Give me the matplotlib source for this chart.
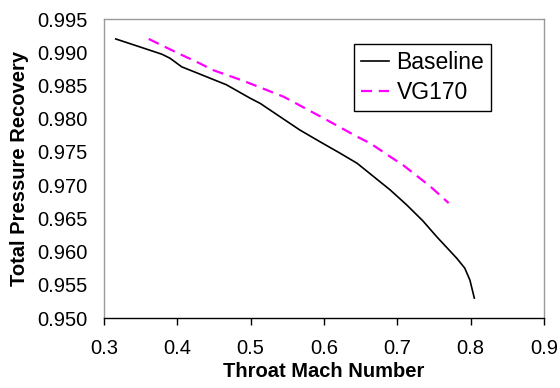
import matplotlib
matplotlib.use('Agg')
import matplotlib.pyplot as plt

plt.rcParams['font.family'] = ['Liberation Sans', 'DejaVu Sans']

# Baseline curve
base_mach = [0.316, 0.349, 0.379, 0.390, 0.406, 0.431, 0.467, 0.499, 0.513, 0.540,
             0.567, 0.595, 0.622, 0.645, 0.672, 0.690, 0.713, 0.735, 0.754, 0.781,
             0.792, 0.799, 0.805]
base_rec = [0.9920, 0.9908, 0.9897, 0.9891, 0.9878, 0.9867, 0.9851, 0.9831, 0.9823, 0.9803,
            0.9783, 0.9765, 0.9748, 0.9733, 0.9709, 0.9693, 0.9670, 0.9646, 0.9622, 0.9590,
            0.9575, 0.9557, 0.9530]

# VG170 curve
vg_mach = [0.361, 0.400, 0.431, 0.449, 0.490, 0.545, 0.599, 0.645, 0.663, 0.690, 0.708, 0.745, 0.770]
vg_rec = [0.9920, 0.9899, 0.9883, 0.9873, 0.9857, 0.9833, 0.9801, 0.9773, 0.9763, 0.9743, 0.9730, 0.9698, 0.9673]

fig = plt.figure(figsize=(5.6, 3.88), dpi=100)
ax = fig.add_axes([0.1857, 0.1804, 0.7857, 0.7706])

ax.plot(base_mach, base_rec, color='black', linewidth=1.2, label='Baseline')
ax.plot(vg_mach, vg_rec, color='#ff00ff', linewidth=1.6, dashes=(5, 3), label='VG170')

ax.set_xlim(0.3, 0.9)
ax.set_ylim(0.950, 0.995)
ax.set_xticks([0.3, 0.4, 0.5, 0.6, 0.7, 0.8, 0.9])
ax.set_xticklabels(['0.3', '0.4', '0.5', '0.6', '0.7', '0.8', '0.9'])
ax.set_yticks([0.950, 0.955, 0.960, 0.965, 0.970, 0.975, 0.980, 0.985, 0.990, 0.995])
ax.set_yticklabels(['%.3f' % v for v in ax.get_yticks()])

ax.tick_params(axis='x', direction='out', length=5, width=1, labelsize=14.5, pad=10)
ax.tick_params(axis='y', length=0, labelsize=14.5, pad=12)

for side in ['left', 'top', 'right']:
    ax.spines[side].set_color('#999999')
    ax.spines[side].set_linewidth(1)
ax.spines['bottom'].set_color('black')
ax.spines['bottom'].set_linewidth(1)

ax.set_xlabel('Throat Mach Number', fontsize=14.5, fontweight='bold', labelpad=3)
ax.set_ylabel('Total Pressure Recovery', fontsize=14.5, fontweight='bold', labelpad=6)

leg = ax.legend(loc='upper right', bbox_to_anchor=(0.880, 0.916), fontsize=16.5,
                fancybox=False, edgecolor='black', framealpha=1, handlelength=1.2,
                handletextpad=0.35, borderpad=0.3, labelspacing=0.3, borderaxespad=0)
leg.get_frame().set_linewidth(1)

fig.savefig('out.png', dpi=100)
